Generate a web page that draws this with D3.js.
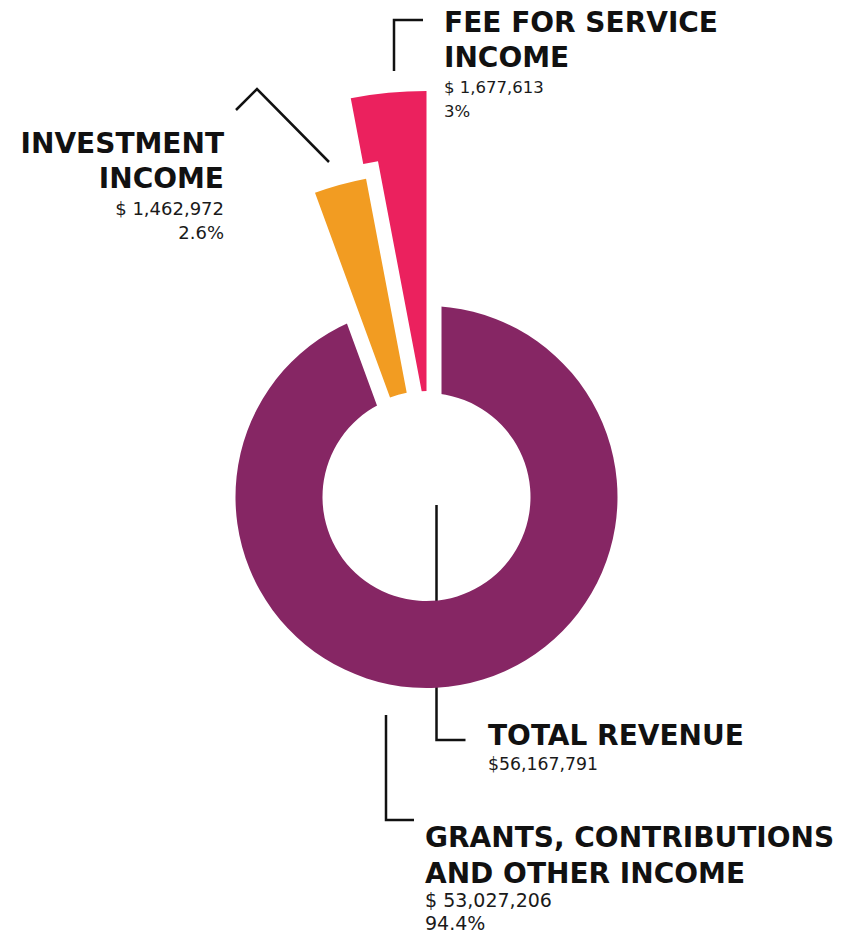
<!DOCTYPE html>
<html>
<head>
<meta charset="utf-8">
<script src="https://cdn.jsdelivr.net/npm/d3@7"></script>
<style>
  body { margin: 0; background: #fff; }
  text { font-family: "DejaVu Sans", sans-serif; fill: #111; }
  .title { font-weight: bold; font-size: 28px; }
  .value { fill: #1a1a1a; }
  .leader { fill: none; stroke: #111; stroke-width: 2.5; }
</style>
</head>
<body>
<div id="chart"></div>
<script>
// revenue breakdown
const categories = ["GRANTS, CONTRIBUTIONS AND OTHER INCOME", "INVESTMENT INCOME", "FEE FOR SERVICE INCOME"];
const amounts = [53027206, 1462972, 1677613];
const percents = ["94.4%", "2.6%", "3%"];
const totalLabel = "TOTAL REVENUE";
const totalAmount = 56167791;

const colors = ["#862664", "#F29C22", "#EB215E"];

const width = 855;
const height = 936;
const cx = 426.5, cy = 497;

// each slice sticks out to a different length
const innerR = [104, 106, 106];
const outerR = [191, 324, 406];

const svg = d3.select("#chart")
  .append("svg")
  .attr("width", width)
  .attr("height", height);

const money = d3.format(",");

// total revenue leader sits under the donut
svg.append("path")
  .attr("class", "leader")
  .attr("d", `M${cx + 10},${cy + 8} V${cy + 243} H${cx + 39}`);

const pie = d3.pie()
  .sort(null)
  .value(d => d);

const arcs = pie(amounts).map((d, i) => ({...d, i}));

const arc = d3.arc()
  .innerRadius(d => innerR[d.i])
  .outerRadius(d => outerR[d.i]);

const g = svg.append("g")
  .attr("transform", `translate(${cx},${cy})`);

// draw big slice first, small ones get a white halo so they cut gaps
g.selectAll("path")
  .data([arcs[0], arcs[2], arcs[1]])
  .enter()
  .append("path")
  .attr("d", arc)
  .attr("fill", d => colors[d.i])
  .attr("stroke", d => d.i === 0 ? "none" : "#fff")
  .attr("stroke-width", 30)
  .attr("stroke-linejoin", "miter")
  .style("paint-order", "stroke");

// leader lines
svg.append("path")
  .attr("class", "leader")
  .attr("d", "M394,71 V20 H423");
svg.append("path")
  .attr("class", "leader")
  .attr("d", "M236,110 L257,89 L329,162");
svg.append("path")
  .attr("class", "leader")
  .attr("d", "M386,715 V820 H414");

// labels
function label(x, y, anchor, lines, values, gaps, vsize) {
  const t = svg.append("g");
  let yy = y;
  lines.forEach((l, k) => {
    t.append("text").attr("class", "title").attr("x", x).attr("y", yy)
      .attr("text-anchor", anchor).text(l);
    yy += gaps[0];
  });
  yy += gaps[1] - gaps[0];
  values.forEach((v, k) => {
    t.append("text").attr("class", "value").attr("x", x).attr("y", yy)
      .attr("text-anchor", anchor).style("font-size", vsize + "px").text(v);
    yy += gaps[2];
  });
}

label(444, 32, "start", ["FEE FOR SERVICE", "INCOME"],
  ["$ " + money(amounts[2]), percents[2]], [35, 26, 24], 16.5);
label(224, 153, "end", ["INVESTMENT", "INCOME"],
  ["$ " + money(amounts[1]), percents[1]], [35, 27, 24], 18);
label(488, 745, "start", [totalLabel],
  ["$" + money(totalAmount)], [35, 25, 24], 17.3);
label(425, 847, "start", ["GRANTS, CONTRIBUTIONS", "AND OTHER INCOME"],
  ["$ " + money(amounts[0]), percents[0]], [36, 24, 23], 19);
</script>
</body>
</html>
